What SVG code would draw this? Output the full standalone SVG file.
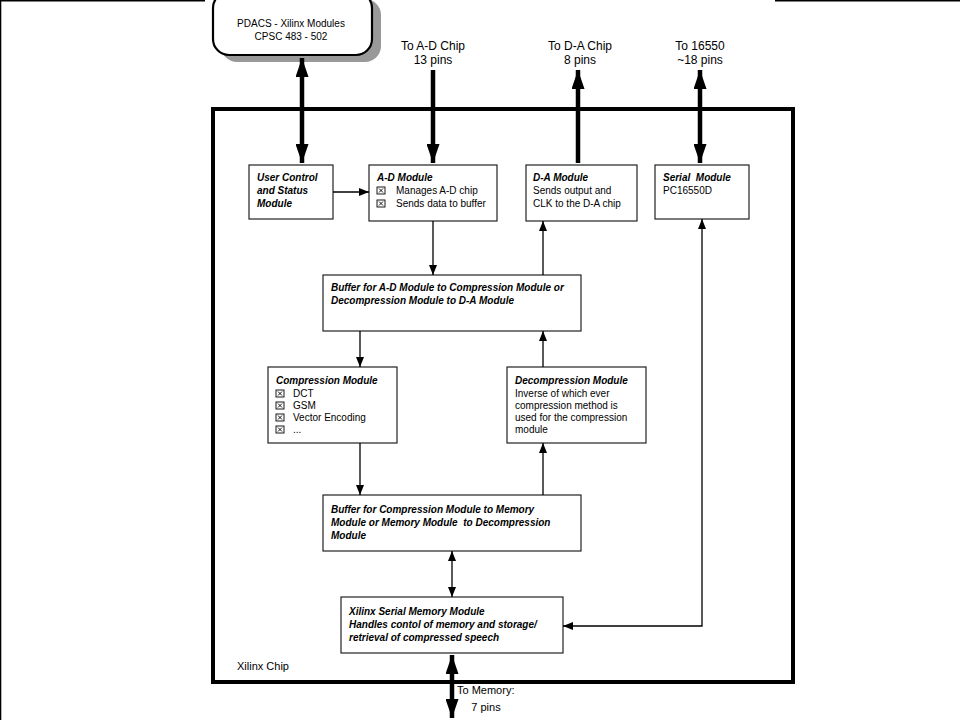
<svg xmlns="http://www.w3.org/2000/svg" width="960" height="720" viewBox="0 0 960 720">
<style>
text{font-family:"Liberation Sans",Arial,sans-serif;font-size:10px;fill:#000}
.t{font-weight:bold;font-style:italic}
.lbl{font-size:12px}
.pre{white-space:pre}
.box{fill:#fff;stroke:#222;stroke-width:1.2}
.thin{fill:none;stroke:#000;stroke-width:1.3}
.thick{fill:none;stroke:#000;stroke-width:4.5}
</style>
<defs>
<marker id="a" viewBox="0 0 10 8" refX="10" refY="4" markerWidth="10" markerHeight="8" markerUnits="userSpaceOnUse" orient="auto-start-reverse"><path d="M0,0 L10,4 L0,8 z" fill="#000"/></marker>
<marker id="A" viewBox="0 0 19 13" refX="19" refY="6.5" markerWidth="19" markerHeight="13" markerUnits="userSpaceOnUse" orient="auto-start-reverse"><path d="M0,0 L19,6.5 L0,13 z" fill="#000"/></marker>
<g id="cb"><rect x="0" y="-7" width="8" height="7" fill="none" stroke="#000" stroke-width="0.9"/><path d="M2,-5.5 L6,-1.5 M6,-5.5 L2,-1.5" stroke="#000" stroke-width="0.9"/></g>
</defs>
<rect width="960" height="720" fill="#fff"/>
<g id="frame">
<path d="M0.5,0 L0.5,720 M0,0.8 L205,0.8 M775,0.8 L960,0.8" stroke="#000" stroke-width="1.6" fill="none"/>
</g>
<g id="title">
<rect x="221" y="-1" width="160" height="63" rx="16" fill="#999"/>
<rect x="213" y="-8" width="159" height="63" rx="16" fill="#fff" stroke="#000" stroke-width="2.2"/>
<text x="291" y="27" text-anchor="middle">PDACS - Xilinx Modules</text>
<text x="291" y="40" text-anchor="middle">CPSC 483 - 502</text>
</g>
<g id="chip">
<rect x="213" y="109" width="580" height="573" fill="none" stroke="#000" stroke-width="4"/>
<text x="237" y="670" style="font-size:11px">Xilinx Chip</text>
</g>
<g id="labels">
<text class="lbl" x="433" y="50" text-anchor="middle">To A-D Chip</text>
<text class="lbl" x="433" y="64" text-anchor="middle">13 pins</text>
<text class="lbl" x="580" y="50" text-anchor="middle">To D-A Chip</text>
<text class="lbl" x="580" y="64" text-anchor="middle">8 pins</text>
<text class="lbl" x="700" y="50" text-anchor="middle">To 16550</text>
<text class="lbl" x="700" y="64" text-anchor="middle">~18 pins</text>
<text x="457" y="694" style="font-size:11px">To Memory:</text>
<text x="486" y="711" text-anchor="middle" style="font-size:11px">7 pins</text>
</g>
<g id="user">
<rect class="box" x="249" y="165" width="84" height="54"/>
<text class="t" x="257" y="181">User Control</text>
<text class="t" x="257" y="194">and Status</text>
<text class="t" x="257" y="207">Module</text>
</g>
<g id="ad">
<rect class="box" x="369" y="165" width="128" height="56"/>
<text class="t" x="377" y="181">A-D Module</text>
<use href="#cb" x="377" y="194"/><text x="396" y="194">Manages A-D chip</text>
<use href="#cb" x="377" y="207"/><text x="396" y="207">Sends data to buffer</text>
</g>
<g id="da">
<rect class="box" x="526" y="165" width="111" height="56"/>
<text class="t" x="533" y="181">D-A Module</text>
<text x="533" y="194">Sends output and</text>
<text x="533" y="207">CLK to the D-A chip</text>
</g>
<g id="serial">
<rect class="box" x="655" y="165" width="94" height="54"/>
<text class="t pre" x="663" y="181">Serial  Module</text>
<text x="663" y="194">PC16550D</text>
</g>
<g id="buf1">
<rect class="box" x="323" y="275" width="258" height="56"/>
<text class="t" x="331" y="291">Buffer for A-D Module to Compression Module or</text>
<text class="t" x="331" y="304">Decompression Module to D-A Module</text>
</g>
<g id="comp">
<rect class="box" x="268" y="367" width="129" height="76"/>
<text class="t" x="276" y="384">Compression Module</text>
<use href="#cb" x="276" y="397"/><text x="293" y="397">DCT</text>
<use href="#cb" x="276" y="409"/><text x="293" y="409">GSM</text>
<use href="#cb" x="276" y="421"/><text x="293" y="421">Vector Encoding</text>
<use href="#cb" x="276" y="433"/><text x="293" y="433">...</text>
</g>
<g id="decomp">
<rect class="box" x="507" y="367" width="139" height="76"/>
<text class="t" x="515" y="384">Decompression Module</text>
<text x="515" y="397">Inverse of which ever</text>
<text x="515" y="409">compression method is</text>
<text x="515" y="421">used for the compression</text>
<text x="515" y="433">module</text>
</g>
<g id="buf2">
<rect class="box" x="323" y="495" width="258" height="56"/>
<text class="t" x="331" y="513">Buffer for Compression Module to Memory</text>
<text class="t pre" x="331" y="526">Module or Memory Module  to Decompression</text>
<text class="t" x="331" y="539">Module</text>
</g>
<g id="mem">
<rect class="box" x="341" y="597" width="222" height="56"/>
<text class="t" x="349" y="615">Xilinx Serial Memory Module</text>
<text class="t" x="349" y="628">Handles contol of memory and storage/</text>
<text class="t" x="349" y="641">retrieval of compressed speech</text>
</g>
<g id="connectors">
<path class="thick" d="M302,58 L302,163" marker-start="url(#A)" marker-end="url(#A)"/>
<path class="thick" d="M433,70 L433,163" marker-end="url(#A)"/>
<path class="thick" d="M578,163 L578,70" marker-end="url(#A)"/>
<path class="thick" d="M700,70 L700,163" marker-start="url(#A)" marker-end="url(#A)"/>
<path class="thick" d="M452,655 L452,718" marker-start="url(#A)" marker-end="url(#A)"/>
<path class="thin" d="M333,192 L369,192" marker-end="url(#a)"/>
<path class="thin" d="M433,221 L433,275" marker-end="url(#a)"/>
<path class="thin" d="M543,275 L543,221" marker-end="url(#a)"/>
<path class="thin" d="M360,331 L360,367" marker-end="url(#a)"/>
<path class="thin" d="M543,367 L543,331" marker-end="url(#a)"/>
<path class="thin" d="M360,443 L360,495" marker-end="url(#a)"/>
<path class="thin" d="M543,495 L543,443" marker-end="url(#a)"/>
<path class="thin" d="M452,551 L452,597" marker-start="url(#a)" marker-end="url(#a)"/>
<path class="thin" d="M702,219 L702,626 L563,626" marker-start="url(#a)" marker-end="url(#a)"/>
</g>
</svg>
